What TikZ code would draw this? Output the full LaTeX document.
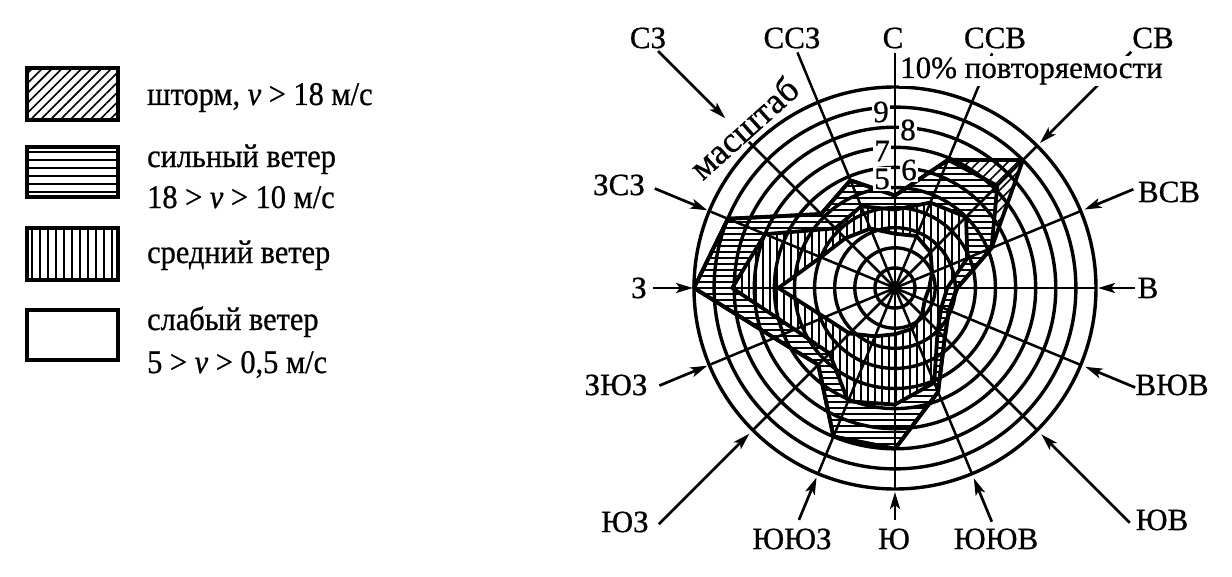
\documentclass[tikz,border=0pt]{standalone}
\usepackage{fontspec}
\setmainfont{Liberation Serif}[FakeBold=0.7]
\newfontfamily\legfont{Liberation Serif}[FakeStretch=0.92,FakeBold=0.7]
\usetikzlibrary{patterns.meta,arrows.meta}
\begin{document}
\begin{tikzpicture}[x=1pt,y=1pt,
  rosestorm/.style={insert path={(90:4.6) -- (67.5:6.9) -- (45:9.0) -- (22.5:5.2) -- (0:3.1) -- (-22.5:2.9) -- (-45:3.5) -- (-67.5:5.6) -- (-90:8.0) -- (-112.5:8.0) -- (-135:5.4) -- (-157.5:6.5) -- (180:10) -- (157.5:9.0) -- (135:5.2) -- (112.5:5.8) -- cycle}},
  rosestrong/.style={insert path={(90:4.6) -- (67.5:6.9) -- (45:7.2) -- (22.5:5.2) -- (0:3.1) -- (-22.5:2.9) -- (-45:3.5) -- (-67.5:5.6) -- (-90:8.0) -- (-112.5:8.0) -- (-135:5.4) -- (-157.5:6.5) -- (180:10) -- (157.5:9.0) -- (135:5.2) -- (112.5:5.8) -- cycle}},
  rosemid/.style={insert path={(90:3.9) -- (67.5:4.6) -- (45:5.0) -- (22.5:3.9) -- (0:2.6) -- (-22.5:2.5) -- (-45:3.0) -- (-67.5:5.1) -- (-90:5.8) -- (-112.5:6.1) -- (-135:4.6) -- (-157.5:5.4) -- (180:8.1) -- (157.5:7.0) -- (135:4.2) -- (112.5:4.4) -- cycle}},
  roseweak/.style={insert path={(90:2.7) -- (67.5:2.8) -- (45:2.5) -- (22.5:2.0) -- (0:1.7) -- (-22.5:1.6) -- (-45:1.9) -- (-67.5:2.2) -- (-90:2.3) -- (-112.5:2.6) -- (-135:3.2) -- (-157.5:3.8) -- (180:5.8) -- (157.5:4.0) -- (135:3.5) -- (112.5:3.2) -- cycle}},
  hatchdiag/.style={pattern={Lines[angle=45,distance=7pt,line width=1.6pt]}},
  hatchhor/.style={pattern={Lines[angle=0,distance=6pt,line width=1.7pt]}},
  hatchver/.style={pattern={Lines[angle=90,distance=7pt,line width=1.7pt]}},
  outline/.style={draw=black,line width=3.8pt,line join=round},
  ringline/.style={draw=black,line width=3.4pt},
  radline/.style={draw=black,line width=2.5pt},
  plainline/.style={draw=black,line width=2.5pt},
  arr/.style={draw=black,line width=2.7pt,-{Stealth[length=17pt,width=10pt,inset=4pt]}},
  dirlabel/.style={inner sep=0pt,font=\fontsize{31}{36}\selectfont},
  numlabel/.style={inner sep=1.5pt,fill=white,font=\fontsize{31}{36}\selectfont},
  legtext/.style={anchor=base west,inner sep=0pt,font=\legfont\fontsize{33}{40}\selectfont},
  legbox/.style={draw=black,line width=3.8pt}
]
\fill[white] (-895,-288) rectangle (337,288);
\useasboundingbox (-895,-288) rectangle (337,288);

% ---- rose areas ----
\begin{scope}[x=20.1pt,y=20.1pt]
  \fill[white][rosestorm];
  \fill[hatchdiag][rosestorm];
  \fill[white][rosestrong];
  \fill[hatchhor][rosestrong];
  \fill[white][rosemid];
  \fill[hatchver][rosemid];
  \fill[white][roseweak];
\end{scope}

% ---- grid ----
\foreach \k in {1,...,10} \draw[ringline] (0,0) circle ({20.1*\k});
\foreach \a in {0,22.5,...,337.5} \draw[radline] (0,0) -- (\a:201);

% ---- polygon outlines ----
\begin{scope}[x=20.1pt,y=20.1pt]
  \draw[outline][rosestorm];
  \draw[outline][rosestrong];
  \draw[outline][rosemid];
  \draw[outline][roseweak];
\end{scope}

% ---- direction lines ----
\foreach \n/\a/\rs/\re in {N/90/235/200, NNE/67.5/254/200, NNW/112.5/255/200}
  {\coordinate (s\n) at (\a:\rs); \coordinate (t\n) at (\a:\re); \draw[plainline] (s\n) -- (t\n);}
\foreach \n/\a/\rs/\re in {NE/45/334/205, ENE/22.5/258/205, E/0/240/203, ESE/-22.5/260/206,
    SE/-45/332/207, SSE/-67.5/253/206, S/-90/232/204, SSW/-112.5/251/205, SW/-135/334/206,
    WSW/-157.5/255/203, W/180/242/202, WNW/157.5/260/203, NW/135/335/240}
  {\coordinate (s\n) at (\a:\rs); \coordinate (t\n) at (\a:\re); \draw[arr] (s\n) -- (t\n);}
\coordinate (sNWin) at (135:210);
\draw[radline] (sNWin) -- (135:200);

% ---- labels ----
\node[dirlabel] (lN)   at (-2,250)   {С};
\node[dirlabel] (lNNE) at (100,250)  {ССВ};
\node[dirlabel] (lNE)  at (258,250)  {СВ};
\node[dirlabel] (lENE) at (274,96)   {ВСВ};
\node[dirlabel] (lE)   at (253,0)    {В};
\node[dirlabel] (lESE) at (277,-97)  {ВЮВ};
\node[dirlabel] (lSE)  at (267,-232) {ЮВ};
\node[dirlabel] (lSSE) at (101,-251) {ЮЮВ};
\node[dirlabel] (lS)   at (-1,-251)  {Ю};
\node[dirlabel] (lSSW) at (-103,-251) {ЮЮЗ};
\node[dirlabel] (lSW)  at (-270,-234) {ЮЗ};
\node[dirlabel] (lWSW) at (-279,-97) {ЗЮЗ};
\node[dirlabel] (lW)   at (-256,0)   {З};
\node[dirlabel] (lWNW) at (-276,103) {ЗСЗ};
\node[dirlabel] (lNW)  at (-247,250) {СЗ};
\node[dirlabel] (lNNW) at (-103,250) {ССЗ};

\node[anchor=base west,inner sep=1pt,fill=white,font=\fontsize{31}{36}\selectfont] (scaletop) at (4,210) {10\% повторяемости};
\node[anchor=base,inner sep=1pt,fill=white,rotate=42,font=\fontsize{36}{42}\selectfont] (scalename) at (-143,151) {масштаб};

\node[numlabel] (n9) at (-14,176) {9};
\node[numlabel] (n8) at (13,158)  {8};
\node[numlabel] (n7) at (-13,137) {7};
\node[numlabel] (n6) at (14,118)  {6};
\node[numlabel] (n5) at (-13,109) {5};

% ---- legend ----
\draw[legbox,hatchdiag] (-868,220) rectangle (-777,168);
\draw[legbox,pattern={Lines[angle=0,distance=8pt,line width=1.6pt]}]  (-868,141) rectangle (-777,91);
\draw[legbox,pattern={Lines[angle=90,distance=8pt,line width=1.6pt]}]  (-868,60)  rectangle (-777,8);
\draw[legbox]           (-868,-22) rectangle (-777,-72);
\node[legtext] (t1)  at (-748,183) {шторм, {\itshape v} > 18 м/с};
\node[legtext] (t2a) at (-748,121) {сильный ветер};
\node[legtext] (t2b) at (-748,80)  {18 > {\itshape v} > 10 м/с};
\node[legtext] (t3)  at (-748,25)  {средний ветер};
\node[legtext] (t4a) at (-748,-42) {слабый ветер};
\node[legtext] (t4b) at (-748,-85) {5 > {\itshape v} > 0,5 м/с};
\end{tikzpicture}
\end{document}
